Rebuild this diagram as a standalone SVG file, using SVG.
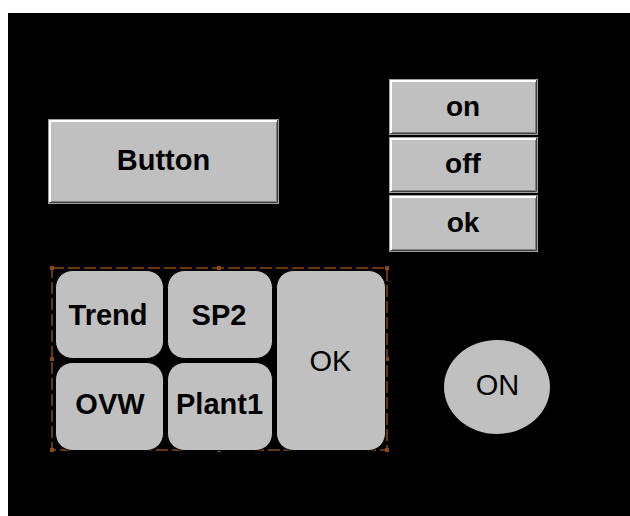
<svg xmlns="http://www.w3.org/2000/svg" width="630" height="516" viewBox="0 0 630 516">
<style>
.face{fill:#c0c0c0}
.outer{fill:none;stroke:#a0a0a0;stroke-width:1}
.hl{fill:none;stroke:#ffffff;stroke-width:2}
.sh1{fill:none;stroke:#404040;stroke-width:1}
.sh2{fill:none;stroke:#808080;stroke-width:1}
.t{font-family:"Liberation Sans",Arial,sans-serif;font-size:29px;fill:#000;text-anchor:middle}
.b{font-weight:bold}
.s{font-size:28px}
.rr{fill:#c0c0c0;stroke:#000;stroke-width:1}
.sel{fill:none;stroke:#8b4a14;stroke-width:1.5;stroke-dasharray:12 4}
.h{fill:#8b4a14}
</style>
<rect x="0" y="0" width="630" height="516" fill="#ffffff"/>
<rect x="8" y="13" width="622" height="503" fill="#000000"/>

<g id="button">
<rect class="face" x="48" y="119" width="231" height="85"/>
<rect class="outer" x="48.5" y="119.5" width="230" height="84"/>
<polyline class="hl" points="50,202 50,121 277,121"/>
<polyline class="sh1" points="49.5,202.5 277.5,202.5 277.5,120"/>
<polyline class="sh2" points="51,201.5 276.5,201.5 276.5,122"/>
<text class="t b" x="163.5" y="170">Button</text>
</g>

<g id="btn-on">
<rect class="face" x="389" y="79" width="149" height="56"/>
<rect class="outer" x="389.5" y="79.5" width="148" height="55"/>
<polyline class="hl" points="391,133 391,81 536,81"/>
<polyline class="sh1" points="390.5,133.5 536.5,133.5 536.5,80"/>
<polyline class="sh2" points="392,132.5 535.5,132.5 535.5,82"/>
<text class="t b s" x="463" y="116">on</text>
</g>

<g id="btn-off">
<rect class="face" x="389" y="137" width="149" height="56"/>
<rect class="outer" x="389.5" y="137.5" width="148" height="55"/>
<polyline class="hl" points="391,191 391,139 536,139"/>
<polyline class="sh1" points="390.5,191.5 536.5,191.5 536.5,138"/>
<polyline class="sh2" points="392,190.5 535.5,190.5 535.5,140"/>
<text class="t b s" x="463" y="173">off</text>
</g>

<g id="btn-ok">
<rect class="face" x="389" y="195" width="149" height="57"/>
<rect class="outer" x="389.5" y="195.5" width="148" height="56"/>
<polyline class="hl" points="391,250 391,197 536,197"/>
<polyline class="sh1" points="390.5,250.5 536.5,250.5 536.5,196"/>
<polyline class="sh2" points="392,249.5 535.5,249.5 535.5,198"/>
<text class="t b s" x="463" y="232">ok</text>
</g>

<g id="selection">
<rect class="sel" x="52" y="268" width="335" height="182"/>
<rect class="h" x="50" y="266" width="4" height="4"/>
<rect class="h" x="217" y="266" width="4" height="4"/>
<rect class="h" x="385" y="266" width="4" height="4"/>
<rect class="h" x="50" y="357" width="4" height="4"/>
<rect class="h" x="385" y="357" width="4" height="4"/>
<rect class="h" x="50" y="448" width="4" height="4"/>
<rect class="h" x="217" y="448" width="4" height="4"/>
<rect class="h" x="385" y="448" width="4" height="4"/>
</g>

<g id="trend">
<rect class="rr" x="55.5" y="270.5" width="108" height="88" rx="17" ry="17"/>
<text class="t b" x="108" y="325">Trend</text>
</g>
<g id="sp2">
<rect class="rr" x="167.5" y="270.5" width="105" height="88" rx="17" ry="17"/>
<text class="t b" x="219" y="325">SP2</text>
</g>
<g id="ovw">
<rect class="rr" x="55.5" y="362.5" width="108" height="88" rx="17" ry="17"/>
<text class="t b" x="110" y="414">OVW</text>
</g>
<g id="plant1">
<rect class="rr" x="167.5" y="362.5" width="105" height="88" rx="17" ry="17"/>
<text class="t b" x="219.5" y="414">Plant1</text>
</g>
<g id="ok">
<rect class="rr" x="276.5" y="270.5" width="109" height="180" rx="17" ry="17"/>
<text class="t" x="330.5" y="371">OK</text>
</g>

<g id="on-circle">
<ellipse cx="497" cy="387" rx="53" ry="47" fill="#c0c0c0"/>
<text class="t" x="497.5" y="395">ON</text>
</g>

<g id="connectors"></g>
</svg>
